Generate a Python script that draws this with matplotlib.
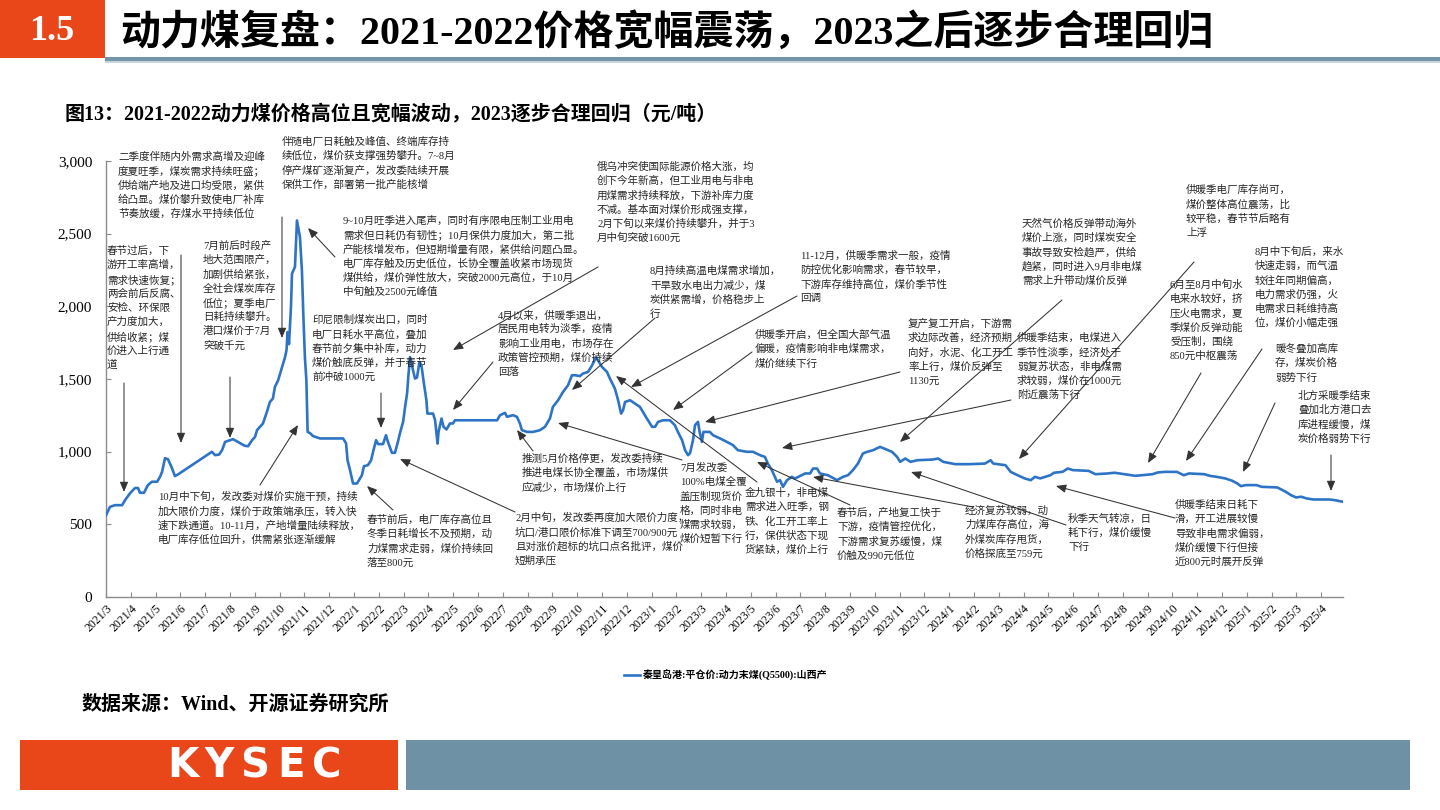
import matplotlib
matplotlib.use("Agg")
import matplotlib.pyplot as plt
from matplotlib.patches import Rectangle
from matplotlib.font_manager import FontProperties
from matplotlib.ticker import FuncFormatter

# ── 字体 ──────────────────────────────────────────────────────────────
SERIF_CJK = ["Liberation Serif", "Noto Sans CJK SC"]
plt.rcParams["font.family"] = SERIF_CJK
plt.rcParams["axes.unicode_minus"] = False

W, H = 1440, 810
BLUE = "#2E74C6"
ORANGE = "#E9471A"
STEEL = "#6E91A5"

# ── 数据：秦皇岛港 Q5500 平仓价（元/吨），横轴为自 2021/3 起的月份数 ──────
month_pos = [
    0.00, 0.16, 0.36, 0.65, 0.77, 0.97, 1.17, 1.29, 1.37, 1.53,
    1.69, 1.85, 2.06, 2.18, 2.26, 2.38, 2.50, 2.66, 2.78, 2.90,
    4.27, 4.40, 4.56, 4.68, 4.80, 5.00, 5.12, 5.32, 5.48, 5.60,
    5.73, 5.89, 6.01, 6.09, 6.21, 6.33, 6.49, 6.61, 6.73, 6.81,
    6.94, 7.02, 7.14, 7.22, 7.28, 7.32, 7.38, 7.46, 7.50, 7.62,
    7.70, 7.82, 7.90, 7.96, 8.02, 8.08, 8.13, 8.23, 8.35, 8.63,
    9.56, 9.68, 9.74, 9.84, 9.96, 10.12, 10.32, 10.40, 10.56, 10.69,
    10.77, 10.89, 10.97, 11.17, 11.29, 11.37, 11.53, 11.65, 11.77, 11.85,
    11.98, 12.06, 12.14, 12.20, 12.26, 12.38, 12.46, 12.54, 12.64, 12.72,
    12.82, 12.92, 12.96, 13.19, 13.27, 13.37, 13.41, 13.53, 13.61, 13.73,
    13.87, 13.99, 14.07, 15.77, 15.89, 16.09, 16.17, 16.41, 16.57, 16.69,
    16.77, 16.98, 17.22, 17.50, 17.70, 17.90, 18.02, 18.23, 18.43, 18.63,
    18.79, 18.91, 19.11, 19.23, 19.44, 19.60, 19.76, 20.00, 20.20, 20.32,
    20.52, 20.65, 20.77, 20.85, 20.93, 21.13, 21.33, 21.53, 21.81, 22.02,
    22.14, 22.26, 22.46, 22.74, 22.94, 23.06, 23.23, 23.35, 23.47, 23.55,
    23.67, 23.75, 23.87, 23.95, 24.03, 24.09, 24.35, 24.48, 24.76, 25.04,
    25.28, 25.48, 25.85, 26.09, 26.37, 26.57, 26.69, 26.85, 27.06, 27.18,
    27.30, 27.46, 27.66, 27.78, 27.98, 28.19, 28.39, 28.51, 28.67, 28.79,
    29.11, 29.48, 29.72, 29.92, 30.12, 30.32, 30.52, 30.69, 30.93, 31.21,
    31.33, 31.69, 31.90, 32.02, 32.23, 32.44, 32.71, 33.34, 33.55, 33.76,
    34.25, 34.81, 35.44, 35.67, 35.78, 36.27, 36.48, 36.76, 37.04, 37.29,
    37.46, 37.67, 37.87, 38.08, 38.23, 38.57, 38.78, 38.99, 39.62, 39.90,
    40.39, 40.67, 41.08, 41.50, 41.78, 42.20, 42.41, 42.69, 43.18, 43.46,
    43.67, 44.29, 44.50, 44.78, 45.13, 45.41, 45.62, 45.76, 45.97, 46.39,
    46.60, 47.23, 47.57, 47.78, 47.99, 48.20, 48.41, 48.69, 49.32, 49.53,
    49.88,
]
price = [
    563, 620, 632, 632, 667, 714, 750, 750, 717, 717,
    770, 793, 793, 827, 861, 955, 948, 887, 832, 843,
    999, 976, 980, 1010, 1067, 1079, 1086, 1067, 1052, 1040,
    1038, 1079, 1102, 1148, 1171, 1194, 1275, 1342, 1366, 1445,
    1491, 1537, 1606, 1651, 1700, 1823, 1740, 2000, 2225, 2271,
    2591, 2477, 2247, 1927, 1651, 1491, 1136, 1127, 1107, 1091,
    1091, 1058, 941, 873, 781, 781, 838, 900, 907, 941,
    999, 1079, 1052, 1052, 1113, 1067, 992, 992, 1067, 1125,
    1205, 1308, 1400, 1537, 1651, 1560, 1503, 1510, 1617, 1594,
    1468, 1354, 1262, 1262, 1216, 1056, 1136, 1228, 1171, 1153,
    1194, 1194, 1216, 1216, 1251, 1267, 1240, 1251, 1240, 1194,
    1148, 1136, 1136, 1148, 1171, 1228, 1308, 1354, 1411, 1457,
    1526, 1526, 1520, 1537, 1549, 1594, 1650, 1583, 1549, 1503,
    1434, 1354, 1262, 1285, 1342, 1354, 1331, 1308, 1228, 1171,
    1171, 1205, 1216, 1216, 1182, 1136, 1079, 1010, 976, 990,
    1079, 1182, 1205, 1125, 1067, 1136, 1136, 1113, 1091, 1067,
    1045, 1010, 999, 999, 976, 964, 918, 873, 793, 804,
    758, 804, 827, 815, 832, 850, 850, 884, 884, 850,
    838, 804, 827, 838, 873, 918, 987, 999, 1010, 1033,
    1025, 999, 964, 930, 953, 930, 941, 946, 953, 930,
    914, 914, 918, 941, 918, 907, 861, 838, 816, 804,
    827, 816, 827, 838, 855, 861, 884, 873, 868, 845,
    850, 855, 845, 834, 838, 845, 857, 861, 861, 838,
    850, 845, 834, 827, 816, 800, 781, 763, 770, 770,
    758, 754, 724, 701, 685, 690, 678, 671, 671, 667,
    655,
]
tick_labels = [
    "2021/3", "2021/4", "2021/5", "2021/6", "2021/7", "2021/8", "2021/9",
    "2021/10", "2021/11", "2021/12",
    "2022/1", "2022/2", "2022/3", "2022/4", "2022/5", "2022/6", "2022/7",
    "2022/8", "2022/9", "2022/10", "2022/11", "2022/12",
    "2023/1", "2023/2", "2023/3", "2023/4", "2023/5", "2023/6", "2023/7",
    "2023/8", "2023/9", "2023/10", "2023/11", "2023/12",
    "2024/1", "2024/2", "2024/3", "2024/4", "2024/5", "2024/6", "2024/7",
    "2024/8", "2024/9", "2024/10", "2024/11", "2024/12",
    "2025/1", "2025/2", "2025/3", "2025/4",
]
y_ticks = [0, 500, 1000, 1500, 2000, 2500, 3000]
SERIES_NAME = "秦皇岛港:平仓价:动力末煤(Q5500):山西产"


def fx(x):
    return x / W


def fy(y):
    return 1 - y / H


# ── 注释：(文字左端 x, 首行中心 y, 各行文字) ──────────────────────────
NOTES = [
    (118, 157, ["二季度伴随内外需求高增及迎峰", "度夏旺季，煤炭需求持续旺盛；",
                "供给端产地及进口均受限，紧供", "给凸显。煤价攀升致使电厂补库",
                "节奏放缓，存煤水平持续低位"]),
    (282, 142, ["伴随电厂日耗触及峰值、终端库存持", "续低位，煤价获支撑强势攀升。7~8月",
                "停产煤矿逐渐复产，发改委陆续开展", "保供工作，部署第一批产能核增"]),
    (343, 221, ["9~10月旺季进入尾声，同时有序限电压制工业用电",
                "需求但日耗仍有韧性；10月保供力度加大，第二批",
                "产能核增发布，但短期增量有限，紧供给问题凸显。",
                "电厂库存触及历史低位，长协全覆盖收紧市场现货",
                "煤供给，煤价弹性放大，突破2000元高位，于10月",
                "中旬触及2500元峰值"]),
    (107, 251, ["春节过后，下", "游开工率高增，", "需求快速恢复；", "两会前后反腐、",
                "安检、环保限", "产力度加大，", "供给收紧；煤", "价进入上行通", "道"]),
    (203, 246, ["7月前后时段产", "地大范围限产，", "加剧供给紧张，", "全社会煤炭库存",
                "低位；夏季电厂", "日耗持续攀升。", "港口煤价于7月", "突破千元"]),
    (312, 320, ["印尼限制煤炭出口，同时", "电厂日耗水平高位，叠加", "春节前夕集中补库，动力",
                "煤价触底反弹，并于春节", "前冲破1000元"]),
    (158, 497, ["10月中下旬，发改委对煤价实施干预，持续", "加大限价力度，煤价于政策端承压，转入快",
                "速下跌通道。10-11月，产地增量陆续释放，", "电厂库存低位回升，供需紧张逐渐缓解"]),
    (367, 520, ["春节前后，电厂库存高位且", "冬季日耗增长不及预期，动", "力煤需求走弱，煤价持续回",
                "落至800元"]),
    (515, 518, ["2月中旬，发改委再度加大限价力度，", "坑口/港口限价标准下调至700/900元",
                "且对涨价超标的坑口点名批评，煤价", "短期承压"]),
    (597, 167, ["俄乌冲突使国际能源价格大涨，均", "创下今年新高，但工业用电与非电",
                "用煤需求持续释放，下游补库力度", "不减。基本面对煤价形成强支撑，",
                "2月下旬以来煤价持续攀升，并于3", "月中旬突破1600元"]),
    (498, 315, ["4月以来，供暖季退出，", "居民用电转为淡季，疫情", "影响工业用电，市场存在",
                "政策管控预期，煤价持续", "回落"]),
    (522, 459, ["推测5月价格停更，发改委持续", "推进电煤长协全覆盖，市场煤供",
                "应减少，市场煤价上行"]),
    (650, 271, ["8月持续高温电煤需求增加，", "干旱致水电出力减少，煤", "炭供紧需增，价格稳步上",
                "行"]),
    (680, 468, ["7月发改委", "100%电煤全覆", "盖压制现货价", "格，同时非电", "煤需求较弱，",
                "煤价短暂下行"]),
    (745, 493, ["金九银十，非电煤", "需求进入旺季，钢", "铁、化工开工率上", "行，保供状态下现",
                "货紧缺，煤价上行"]),
    (800, 256, ["11-12月，供暖季需求一般，疫情", "防控优化影响需求，春节较早，",
                "下游库存维持高位，煤价季节性", "回调"]),
    (755, 335, ["供暖季开启，但全国大部气温", "偏暖，疫情影响非电煤需求，", "煤价继续下行"]),
    (908, 324, ["复产复工开启，下游需", "求边际改善，经济预期", "向好，水泥、化工开工",
                "率上行，煤价反弹至", "1130元"]),
    (837, 513, ["春节后，产地复工快于", "下游，疫情管控优化，", "下游需求复苏缓慢，煤",
                "价触及990元低位"]),
    (1022, 224, ["天然气价格反弹带动海外", "煤价上涨，同时煤炭安全", "事故导致安检趋严，供给",
                 "趋紧，同时进入9月非电煤", "需求上升带动煤价反弹"]),
    (1017, 338, ["供暖季结束，电煤进入", "季节性淡季，经济处于", "弱复苏状态，非电煤需",
                 "求较弱，煤价在1000元", "附近震荡下行"]),
    (965, 511, ["经济复苏较弱，动", "力煤库存高位，海", "外煤炭库存甩货，", "价格探底至759元"]),
    (1068, 519, ["秋季天气转凉，日", "耗下行，煤价缓慢", "下行"]),
    (1186, 190, ["供暖季电厂库存尚可，", "煤价整体高位震荡，比", "较平稳，春节节后略有", "上浮"]),
    (1170, 285, ["6月至8月中旬水", "电来水较好，挤", "压火电需求，夏", "季煤价反弹动能",
                 "受压制，围绕", "850元中枢震荡"]),
    (1255, 252, ["8月中下旬后，来水", "快速走弱，而气温", "较往年同期偏高，", "电力需求仍强，火",
                 "电需求日耗维持高", "位，煤价小幅走强"]),
    (1275, 349, ["暖冬叠加高库", "存，煤炭价格", "弱势下行"]),
    (1298, 396, ["北方采暖季结束", "叠加北方港口去", "库进程缓慢，煤", "炭价格弱势下行"]),
    (1175, 505, ["供暖季结束日耗下", "滑，开工进展较慢", "导致非电需求偏弱，", "煤价缓慢下行但接",
                 "近800元时展开反弹"]),
]

# ── 箭头：(起点 x, y) → (箭头 x, y)，图像像素坐标 ────────────────────
ARROWS = [
    ((124, 383), (124, 492)), ((181, 255), (181, 443)), ((230, 377), (230, 438)),
    ((282, 217), (282, 338)), ((335, 257), (308, 228)), ((260, 485), (298, 425)),
    ((393, 510), (367, 486)), ((381, 393), (381, 428)), ((515, 512), (400, 459)),
    ((598, 267), (453, 350)), ((493, 362), (453, 410)), ((533, 451), (517, 430)),
    ((655, 318), (572, 390)), ((682, 460), (558, 423)), ((757, 482), (616, 376)),
    ((797, 296), (631, 387)), ((752, 352), (673, 410)), ((900, 372), (705, 422)),
    ((850, 505), (757, 462)), ((1062, 300), (900, 442)), ((1011, 400), (782, 448)),
    ((973, 507), (813, 477)), ((1066, 525), (911, 472)), ((1194, 262), (1019, 459)),
    ((1201, 373), (1148, 463)), ((1262, 349), (1186, 461)), ((1275, 403), (1243, 472)),
    ((1331, 455), (1331, 491)), ((1175, 518), (1056, 486)),
]

fig = plt.figure(figsize=(W / 100, H / 100), dpi=100)
fig.patch.set_facecolor("white")

# ── 顶部标题栏 ────────────────────────────────────────────────────────
fig.add_artist(Rectangle((0, fy(58)), fx(105), 58 / H, transform=fig.transFigure,
                         color=ORANGE, lw=0))
fig.add_artist(Rectangle((fx(105), fy(61)), 1 - fx(105), 4 / H, transform=fig.transFigure,
                         color="#7393A6", lw=0))
fig.add_artist(Rectangle((fx(105), fy(63)), 1 - fx(105), 2 / H, transform=fig.transFigure,
                         color="#C8D5DE", lw=0))
fig.text(fx(52), fy(31), "1.5", color="white", fontsize=26, fontweight="bold",
         family="Liberation Serif", ha="center", va="center")
fig.text(fx(120), fy(33), "动力煤复盘：2021-2022价格宽幅震荡，2023之后逐步合理回归",
         fontsize=28.8, fontweight="bold", ha="left", va="center", color="black")
fig.text(fx(65), fy(115), "图13：2021-2022动力煤价格高位且宽幅波动，2023逐步合理回归（元/吨）",
         fontsize=14.4, fontweight="bold", ha="left", va="center", color="black")

# ── 主图 ──────────────────────────────────────────────────────────────
ax = fig.add_axes([fx(106), fy(597), (1343 - 106) / W, (597 - 161) / H])
line, = ax.plot(month_pos, price, color=BLUE, lw=1.9, label=SERIES_NAME, zorder=3)
ax.set_xlim(0, month_pos[-1])
ax.set_ylim(0, 3000)
ax.set_yticks(y_ticks)
ax.yaxis.set_major_formatter(FuncFormatter(lambda v, _: f"{v:,.0f}"))
ax.set_xticks(range(len(tick_labels)))
ax.set_xticklabels(tick_labels, rotation=45, ha="right", va="top",
                   rotation_mode="anchor", fontsize=8.5, family="Liberation Serif")
for lab in ax.get_yticklabels():
    lab.set_family("Liberation Serif")
    lab.set_fontsize(11)
ax.tick_params(axis="both", direction="in", length=3.5, color="#8C8C8C", width=0.8)
ax.tick_params(axis="y", pad=10)
ax.tick_params(axis="x", pad=4)
for side in ("top", "right"):
    ax.spines[side].set_visible(False)
for side in ("left", "bottom"):
    ax.spines[side].set_color("#8C8C8C")
    ax.spines[side].set_linewidth(1.0)

# ── 注释文字与箭头 ────────────────────────────────────────────────────
for x0, y0, lines in NOTES:
    for i, s in enumerate(lines):
        fig.text(fx(x0), fy(y0 + i * 14.2), s, fontsize=7.6, color="#262626",
                 ha="left", va="center")

for (tx, ty), (hx, hy) in ARROWS:
    ax.annotate("", xy=(fx(hx), fy(hy)), xytext=(fx(tx), fy(ty)),
                xycoords="figure fraction", textcoords="figure fraction",
                annotation_clip=False,
                arrowprops=dict(arrowstyle="-|>,head_length=0.6,head_width=0.25",
                                color="#333333", lw=0.75, mutation_scale=10,
                                shrinkA=0, shrinkB=0))

# ── 图例 / 来源 / 页脚 ────────────────────────────────────────────────
ax.legend(handles=[line], loc="center left", bbox_to_anchor=(fx(615), fy(675)),
          bbox_transform=fig.transFigure, frameon=False, handlelength=1.6,
          handletextpad=0.3, prop=FontProperties(family=SERIF_CJK, weight="bold", size=7.2))
fig.text(fx(82), fy(705), "数据来源：Wind、开源证券研究所", fontsize=14.4,
         fontweight="bold", ha="left", va="center", color="black")

fig.add_artist(Rectangle((fx(20), fy(790)), (398 - 20) / W, 50 / H,
                         transform=fig.transFigure, color=ORANGE, lw=0))
fig.add_artist(Rectangle((fx(406), fy(790)), (1410 - 406) / W, 50 / H,
                         transform=fig.transFigure, color=STEEL, lw=0))
for i, ch in enumerate("KYSEC"):
    fig.text(fx(183 + i * 36), fy(766), ch, color="white", fontsize=29,
             fontweight="bold", family="DejaVu Sans", ha="center", va="center")

fig.savefig("out.png", dpi=100)
